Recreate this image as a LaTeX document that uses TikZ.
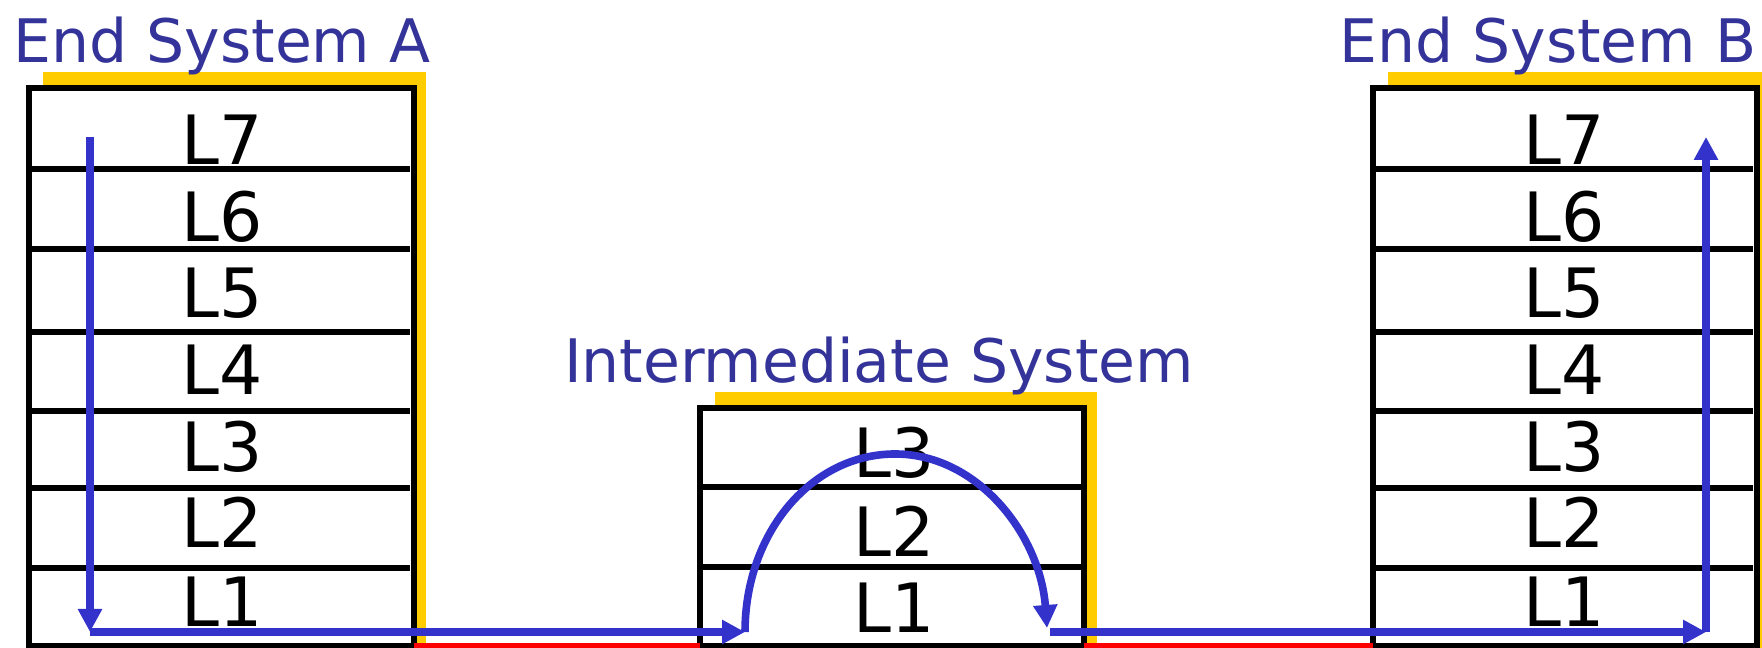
\documentclass[tikz,border=0pt]{standalone}
\usepackage{fontspec}
\setmainfont{DejaVu Sans}
\usepackage{tikz}
\usetikzlibrary{arrows.meta,positioning,calc}
\definecolor{TitleBlue}{HTML}{333399}
\definecolor{FlowBlue}{HTML}{3333CC}
\definecolor{ShadeGold}{HTML}{FFCC00}

\begin{document}
\begin{tikzpicture}[
  x=0.25pt, y=-0.25pt,
  frame/.style={draw=black, line width=1.3pt},
  layer/.style={font=\fontsize{17}{20}\selectfont, anchor=base, inner sep=0pt},
  title/.style={font=\fontsize{15}{18}\selectfont, text=TitleBlue, anchor=base, inner sep=0pt},
  flow/.style={draw=FlowBlue, line width=1.9pt, -{Triangle[length=5.75pt, width=5.75pt]}},
  link/.style={draw=red, line width=1.5pt}
]
  \useasboundingbox (0,0) rectangle (1762,648);
  % shadows
  \fill[ShadeGold] (43,72) rectangle (426,648);
  \fill[ShadeGold] (715,392) rectangle (1097,648);
  \fill[ShadeGold] (1388,72) rectangle (1772,648);
  % stacks
  \filldraw[fill=white, frame] (29,88) rectangle (414,646);
  \filldraw[fill=white, frame] (700,408) rectangle (1084,646);
  \filldraw[fill=white, frame] (1373,88) rectangle (1757,646);
  \foreach \y in {169,249,332,411,488,568} {
    \draw[frame] (29,\y) -- (410,\y);
    \draw[frame] (1373,\y) -- (1753,\y);
  }
  \foreach \y in {487,567} \draw[frame] (700,\y) -- (1082,\y);
  \foreach \y/\n in {165/7,242/6,318/5,395/4,472/3,548/2,627/1} {
    \node[layer] (a\n) at (222,\y) {L\n};
    \node[layer] (b\n) at (1564,\y) {L\n};
  }
  \foreach \y/\n in {478/3,557/2,633/1} \node[layer] (i\n) at (894,\y) {L\n};
  % titles
  \node[title] (tA) at (222,63) {End System A};
  \node[title] (tB) at (1548,63) {End System B};
  \node[title] (tI) at (879,383) {Intermediate System};
  % links
  \draw[link] (414,646) -- (700,646);
  \draw[link] (1084,646) -- (1373,646);
  % data path
  \coordinate (aTop) at (90,137);
  \coordinate (aBot) at (90,632);
  \coordinate (iIn) at (745,632);
  \coordinate (iPeak) at (895,454);
  \coordinate (iOut) at (1047,628);
  \coordinate (iNext) at (1050,632);
  \coordinate (bBot) at (1706,632);
  \coordinate (bTop) at (1706,137);
  \draw[flow] (aTop) -- (aBot);
  \draw[flow] (aBot) -- (iIn);
  \draw[flow] (iIn) .. controls (745,532) and (812,454) .. (iPeak)
    .. controls (978,454) and (1040,535) .. (iOut);
  \draw[flow] (iNext) -- (bBot);
  \draw[flow] (bBot) -- (bTop);
\end{tikzpicture}
\end{document}
